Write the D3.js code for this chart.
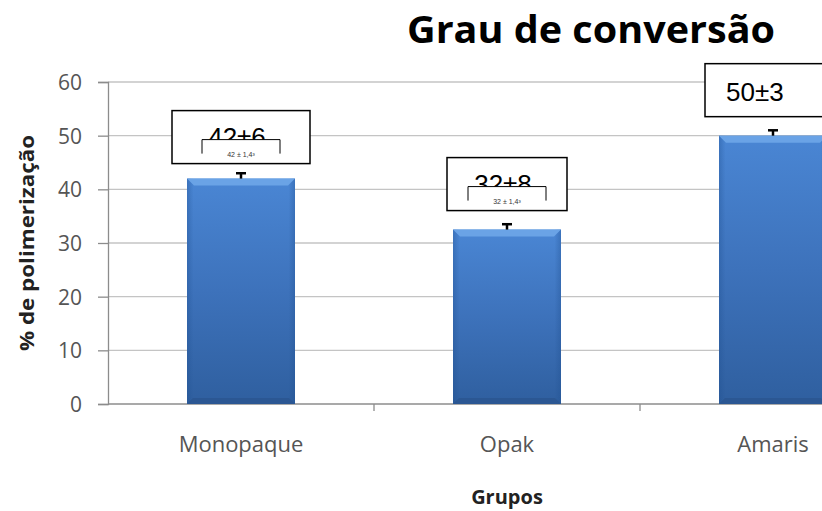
<!DOCTYPE html>
<html>
<head>
<meta charset="utf-8">
<script src="https://cdn.jsdelivr.net/npm/d3@7"></script>
<style>
  body { margin: 0; background: #fff; }
  svg { display: block; }
</style>
</head>
<body>
<div class="container"></div>
<script>
const w = 822;
const h = 511;

// data
const groups = ["Monopaque", "Opak", "Amaris"];
const values = [42, 32.5, 50];
const errors = [1, 1, 1];
const labels = ["42±6", "32±8", "50±3"];
const smallLabels = ["42 ± 1,4³", "32 ± 1,4³", null];
const yTicks = [0, 10, 20, 30, 40, 50, 60];

const font = '"Open Sans", Lato, sans-serif';
const margin = { top: 82, left: 108, bottom: 107 };

const svg = d3.select('.container').append('svg')
  .attr('width', w)
  .attr('height', h);

const x = d3.scaleBand()
  .domain(groups)
  .range([margin.left, 906])
  .paddingInner(0.594)
  .paddingOuter(0.297);

const y = d3.scaleLinear()
  .domain([0, 60])
  .range([h - margin.bottom, margin.top]);

const defs = svg.append('defs');
const grad = defs.append('linearGradient')
  .attr('id', 'barGrad')
  .attr('x1', 0).attr('y1', 0).attr('x2', 0).attr('y2', 1);
grad.append('stop').attr('offset', '0%').attr('stop-color', '#4a86d4');
grad.append('stop').attr('offset', '50%').attr('stop-color', '#3d72bb');
grad.append('stop').attr('offset', '100%').attr('stop-color', '#2f5f9f');

const sideGrad = defs.append('linearGradient')
  .attr('id', 'sideGrad')
  .attr('x1', 0).attr('y1', 0).attr('x2', 1).attr('y2', 0);
sideGrad.append('stop').attr('offset', '0%').attr('stop-color', '#1f4f8f').attr('stop-opacity', 0.35);
sideGrad.append('stop').attr('offset', '6%').attr('stop-color', '#1f4f8f').attr('stop-opacity', 0);
sideGrad.append('stop').attr('offset', '94%').attr('stop-color', '#1f4f8f').attr('stop-opacity', 0);
sideGrad.append('stop').attr('offset', '100%').attr('stop-color', '#1f4f8f').attr('stop-opacity', 0.35);

// gridlines
svg.append('g')
  .selectAll('line')
  .data(yTicks.filter(d => d > 0))
  .join('line')
  .attr('x1', margin.left)
  .attr('x2', w)
  .attr('y1', d => y(d))
  .attr('y2', d => y(d))
  .attr('stroke', '#c4c4c4')
  .attr('stroke-width', 1.3);

// y axis
const yAxis = svg.append('g')
  .attr('transform', `translate(${margin.left},0)`)
  .call(d3.axisLeft(y).tickValues(yTicks).tickSize(10).tickPadding(16));
yAxis.select('.domain').attr('stroke', '#8c8c8c').attr('stroke-width', 1.3);
yAxis.selectAll('.tick line').attr('stroke', '#8c8c8c').attr('stroke-width', 1.3);
yAxis.selectAll('.tick text')
  .attr('fill', '#555')
  .attr('dy', '0.36em')
  .style('font-family', font)
  .style('font-size', '21px');

// x axis line with ticks at band boundaries
svg.append('line')
  .attr('x1', margin.left)
  .attr('x2', w)
  .attr('y1', y(0))
  .attr('y2', y(0))
  .attr('stroke', '#8c8c8c')
  .attr('stroke-width', 1.3);

svg.append('g')
  .selectAll('line')
  .data(groups.slice(1))
  .join('line')
  .attr('x1', d => x(d) - x.step() * x.paddingInner() / 2)
  .attr('x2', d => x(d) - x.step() * x.paddingInner() / 2)
  .attr('y1', y(0))
  .attr('y2', y(0) + 7)
  .attr('stroke', '#8c8c8c')
  .attr('stroke-width', 1.3);

svg.append('g')
  .selectAll('text')
  .data(groups)
  .join('text')
  .attr('x', d => x(d) + x.bandwidth() / 2)
  .attr('y', y(0) + 48)
  .attr('text-anchor', 'middle')
  .attr('fill', '#555')
  .style('font-family', font)
  .style('font-size', '22px')
  .text(d => d);

// bars
const bar = svg.append('g')
  .selectAll('g')
  .data(groups)
  .join('g');

bar.append('rect')
  .attr('x', d => x(d))
  .attr('y', (d, i) => y(values[i]))
  .attr('width', x.bandwidth())
  .attr('height', (d, i) => y(0) - y(values[i]))
  .attr('fill', 'url(#barGrad)');

bar.append('rect')
  .attr('x', d => x(d))
  .attr('y', (d, i) => y(values[i]))
  .attr('width', x.bandwidth())
  .attr('height', (d, i) => y(0) - y(values[i]))
  .attr('fill', 'url(#sideGrad)');

// top bevel
bar.append('path')
  .attr('d', (d, i) => {
    const x0 = x(d), x1 = x(d) + x.bandwidth(), t = y(values[i]), b = 7;
    return `M${x0},${t} L${x1},${t} L${x1 - b},${t + b} L${x0 + b},${t + b} Z`;
  })
  .attr('fill', '#6aa3e6');

// bottom shade
bar.append('path')
  .attr('d', d => {
    const x0 = x(d), x1 = x(d) + x.bandwidth(), bt = y(0), b = 6;
    return `M${x0},${bt} L${x1},${bt} L${x1 - b},${bt - b} L${x0 + b},${bt - b} Z`;
  })
  .attr('fill', '#2a5590')
  .attr('opacity', 0.8);

// error bars
bar.append('line')
  .attr('x1', d => x(d) + x.bandwidth() / 2)
  .attr('x2', d => x(d) + x.bandwidth() / 2)
  .attr('y1', (d, i) => y(values[i]))
  .attr('y2', (d, i) => y(values[i] + errors[i]))
  .attr('stroke', '#000')
  .attr('stroke-width', 2.5);
bar.append('line')
  .attr('x1', d => x(d) + x.bandwidth() / 2 - 5)
  .attr('x2', d => x(d) + x.bandwidth() / 2 + 5)
  .attr('y1', (d, i) => y(values[i] + errors[i]))
  .attr('y2', (d, i) => y(values[i] + errors[i]))
  .attr('stroke', '#000')
  .attr('stroke-width', 2.5);

// annotation boxes
const boxW = [138, 120, 122];
const boxOff = [15, 19, 19];
const box = svg.append('g')
  .selectAll('g')
  .data(groups)
  .join('g')
  .attr('transform', (d, i) => {
    const cx = i === 2 ? x(d) - 14 : x(d) + x.bandwidth() / 2 - boxW[i] / 2;
    return `translate(${cx},${y(values[i]) - boxOff[i] - 53})`;
  });

box.append('rect')
  .attr('width', (d, i) => boxW[i])
  .attr('height', 53)
  .attr('fill', '#fff')
  .attr('stroke', '#000')
  .attr('stroke-width', 1.5);

box.append('text')
  .attr('x', (d, i) => i === 2 ? 21 : boxW[i] / 2 - 4)
  .attr('y', (d, i) => i === 2 ? 37 : 35)
  .attr('text-anchor', (d, i) => i === 2 ? 'start' : 'middle')
  .style('font-family', 'Arial, "Liberation Sans", sans-serif')
  .style('font-size', '26px')
  .attr('fill', '#000')
  .text((d, i) => labels[i]);

// small overlapping inner boxes (cover lower half of the big label)
const inner = box.filter((d, i) => smallLabels[i] !== null)
  .append('g')
  .attr('transform', (d, i) => `translate(${boxW[i] / 2 - 39},29)`);
inner.append('rect')
  .attr('width', 78)
  .attr('height', 14)
  .attr('fill', '#fff');
inner.append('text')
  .attr('x', 39)
  .attr('y', 17)
  .attr('text-anchor', 'middle')
  .style('font-family', 'Arial, sans-serif')
  .style('font-size', '7px')
  .attr('fill', '#333')
  .text((d, i) => smallLabels[i]);
inner.append('path')
  .attr('d', 'M0,14 L0,0 L78,0 L78,14')
  .attr('fill', 'none')
  .attr('stroke', '#000')
  .attr('stroke-width', 1);

// titles
svg.append('text')
  .attr('x', 407)
  .attr('y', 43)
  .attr('textLength', 368)
  .attr('lengthAdjust', 'spacingAndGlyphs')
  .style('font-family', font)
  .style('font-weight', 'bold')
  .style('font-size', '37px')
  .attr('fill', '#000')
  .text('Grau de conversão');

svg.append('text')
  .attr('x', 507)
  .attr('y', 504)
  .attr('text-anchor', 'middle')
  .style('font-family', font)
  .style('font-weight', 'bold')
  .style('font-size', '20px')
  .attr('fill', '#222')
  .text('Grupos');

svg.append('text')
  .attr('transform', `translate(34,${(y(0) + y(60)) / 2}) rotate(-90)`)
  .attr('text-anchor', 'middle')
  .attr('textLength', 216)
  .attr('lengthAdjust', 'spacingAndGlyphs')
  .style('font-family', font)
  .style('font-weight', 'bold')
  .style('font-size', '19px')
  .attr('fill', '#222')
  .text('% de polimerização');
</script>
</body>
</html>
